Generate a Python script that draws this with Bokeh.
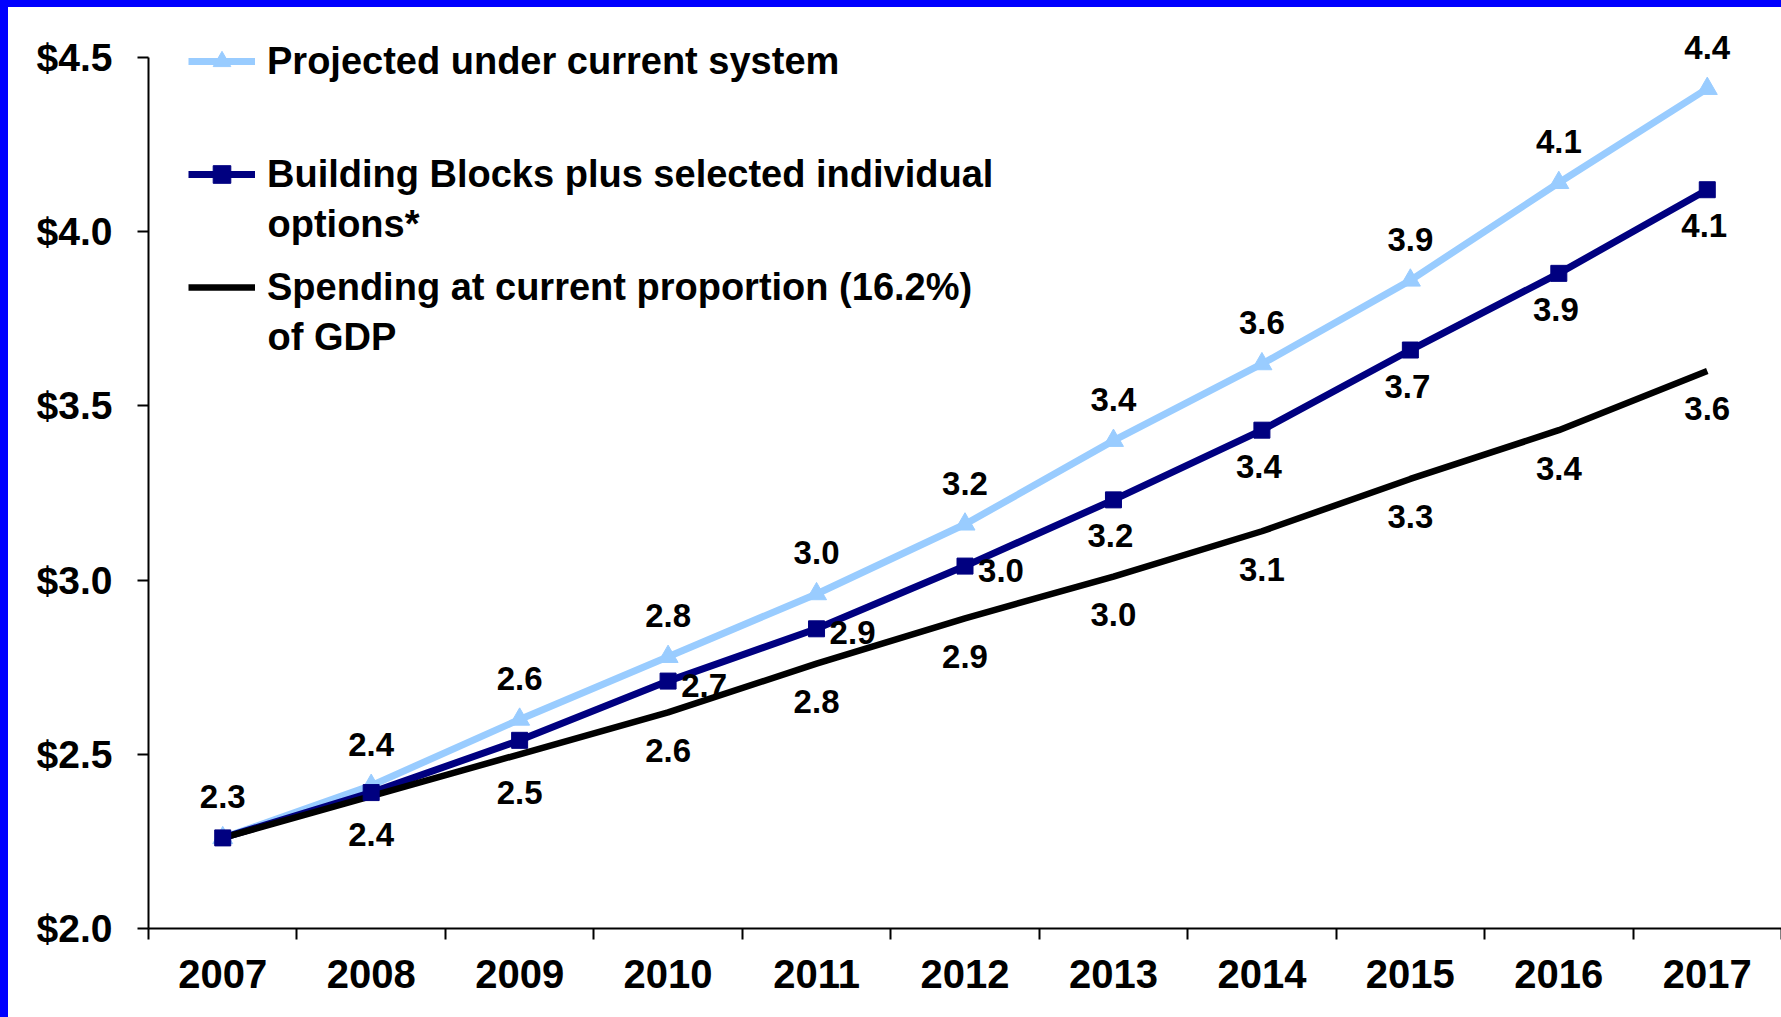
from bokeh.plotting import figure
from bokeh.models import (Range1d, FixedTicker, NumeralTickFormatter, Legend, LegendItem,
                          Label, ColumnDataSource)
from bokeh.core.properties import value
from bokeh.embed import file_html
from bokeh.resources import INLINE

# ---- data ----
years = [2007, 2008, 2009, 2010, 2011, 2012, 2013, 2014, 2015, 2016, 2017]
projected = [2.26, 2.41, 2.60, 2.78, 2.96, 3.16, 3.40, 3.62, 3.86, 4.14, 4.41]
building_blocks = [2.26, 2.39, 2.54, 2.71, 2.86, 3.04, 3.23, 3.43, 3.66, 3.88, 4.12]
spending_gdp = [2.26, 2.38, 2.50, 2.62, 2.76, 2.89, 3.01, 3.14, 3.29, 3.43, 3.60]
y_ticks = [2.0, 2.5, 3.0, 3.5, 4.0, 4.5]

series_names = ["Projected under current system",
                "Building Blocks plus selected individual",
                "Spending at current proportion (16.2%)"]
series_names_line2 = ["", "options*", "of GDP"]

# which points carry a value label, and where (style only)
bb_label_side = [None, None, None, "right", "right", "right", "below", "below", "below", "below", "below"]
sp_labelled = [False] + [True] * 10

LIGHT = "#99CCFF"
NAVY = "#000080"
FONT = "Liberation Sans"

W, H = 1781, 1017
p = figure(width=W, height=H, output_backend="svg", toolbar_location=None,
           x_range=Range1d(years[0] - 0.5, years[-1] + 0.5),
           y_range=Range1d(2.0, 4.663),
           min_border_left=148, min_border_right=0, min_border_top=0, min_border_bottom=89)
p.styles = {"box-shadow": "inset 8px 7px 0 0 #0000FF", "background-color": "white"}
p.background_fill_color = None
p.border_fill_color = None
p.outline_line_color = None
p.xgrid.visible = False
p.ygrid.visible = False

# y axis
ya = p.yaxis[0]
ya.ticker = FixedTicker(ticks=y_ticks, minor_ticks=[])
ya.bounds = (2.0, 4.5)
ya.formatter = NumeralTickFormatter(format="$0.0")
ya.major_tick_out = 11
ya.major_tick_in = 0
ya.major_tick_line_width = 2
ya.axis_line_width = 2
ya.axis_line_color = "black"
ya.major_label_standoff = 25
ya.major_label_text_font = FONT
ya.major_label_text_font_style = "bold"
ya.major_label_text_font_size = "39px"
ya.major_label_text_color = "black"

# x axis: labels at categories, tick marks at category boundaries
xa = p.xaxis[0]
xa.ticker = FixedTicker(ticks=years, minor_ticks=[y + 0.5 for y in [years[0] - 1] + years])
xa.major_label_overrides = {y: str(y) for y in years}
xa.major_tick_line_color = None
xa.major_tick_out = 0
xa.major_tick_in = 0
xa.minor_tick_out = 11
xa.minor_tick_in = 0
xa.minor_tick_line_width = 2
xa.minor_tick_line_color = "black"
xa.axis_line_width = 2
xa.axis_line_color = "black"
xa.major_label_standoff = 20
xa.major_label_text_font = FONT
xa.major_label_text_font_style = "bold"
xa.major_label_text_font_size = "40px"
xa.major_label_text_color = "black"

src = ColumnDataSource(dict(year=years, proj=projected, bb=building_blocks, sp=spending_gdp))

l1 = p.line("year", "proj", source=src, line_color=LIGHT, line_width=7)
m1 = p.scatter("year", "proj", source=src, marker="triangle", size=20,
               fill_color=LIGHT, line_color=LIGHT)
l2 = p.line("year", "bb", source=src, line_color=NAVY, line_width=7)
l3 = p.line("year", "sp", source=src, line_color="black", line_width=6.5)
m2 = p.scatter("year", "bb", source=src, marker="square", size=16,
               fill_color=NAVY, line_color=NAVY)

txt = dict(text_align="center", text_baseline="middle", text_font=value(FONT),
           text_font_style="bold", text_font_size="33px", text_color="black")

# value labels
p.text(x=years, y=projected, text=[f"{v:.1f}" for v in projected], y_offset=-41, **txt)

idx_r = [i for i, s in enumerate(bb_label_side) if s == "right"]
idx_b = [i for i, s in enumerate(bb_label_side) if s == "below"]
p.text(x=[years[i] for i in idx_r], y=[building_blocks[i] for i in idx_r],
       text=[f"{building_blocks[i]:.1f}" for i in idx_r], x_offset=36, y_offset=4, **txt)
p.text(x=[years[i] for i in idx_b], y=[building_blocks[i] for i in idx_b],
       text=[f"{building_blocks[i]:.1f}" for i in idx_b], x_offset=-3, y_offset=36, **txt)

idx_s = [i for i, f in enumerate(sp_labelled) if f]
p.text(x=[years[i] for i in idx_s], y=[spending_gdp[i] for i in idx_s],
       text=[f"{spending_gdp[i]:.1f}" for i in idx_s], y_offset=38, **txt)

# legend
legend = Legend(items=[LegendItem(label=series_names[0], renderers=[l1, m1]),
                       LegendItem(label=series_names[1], renderers=[l2, m2]),
                       LegendItem(label=series_names[2], renderers=[l3])],
                location=(40, 619), orientation="vertical",
                glyph_width=67, glyph_height=44, label_height=44, spacing=69,
                label_standoff=12, padding=0, margin=0,
                border_line_color=None, background_fill_alpha=0,
                label_text_font=FONT, label_text_font_style="bold",
                label_text_font_size="38px", label_text_color="black")
p.add_layout(legend, "center")

for txt2, yy in [(series_names_line2[1], 705), (series_names_line2[2], 592)]:
    p.add_layout(Label(x=119, y=yy, x_units="screen", y_units="screen", text=txt2,
                       text_font=FONT, text_font_style="bold", text_font_size="38px",
                       text_align="left", text_baseline="middle", text_color="black"))

open("out.html", "w").write(file_html(p, INLINE))
